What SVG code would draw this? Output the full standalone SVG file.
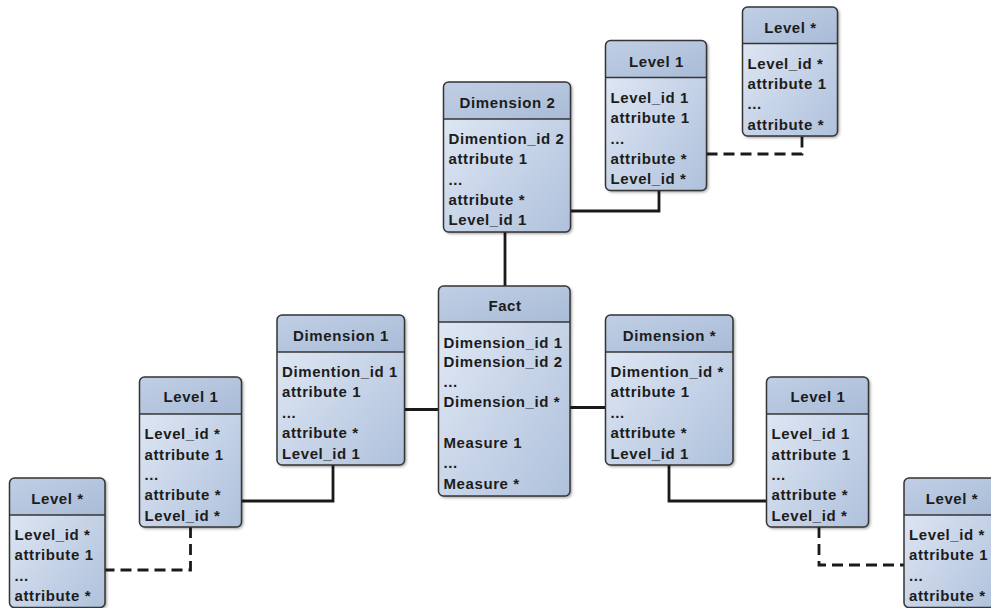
<svg xmlns="http://www.w3.org/2000/svg" width="991" height="608" viewBox="0 0 991 608">
<defs>
  <linearGradient id="gBody" x1="0" y1="0" x2="1" y2="1">
    <stop offset="0" stop-color="#e4ebf6"/>
    <stop offset="1" stop-color="#afc1dc"/>
  </linearGradient>
  <linearGradient id="gHead" x1="0" y1="0" x2="1" y2="1">
    <stop offset="0" stop-color="#c0cfe5"/>
    <stop offset="1" stop-color="#a9bbd7"/>
  </linearGradient>
  <filter id="sh" x="-10%" y="-10%" width="130%" height="130%">
    <feDropShadow dx="1.5" dy="1.5" stdDeviation="1.5" flood-color="#000" flood-opacity="0.45"/>
  </filter>
  <style>
    .body{fill:url(#gBody);filter:url(#sh)}
    .head{fill:url(#gHead)}
    .sep{stroke:#353535;stroke-width:1.5}
    .frame{fill:none;stroke:#353535;stroke-width:1.5}
    text{font-family:"Liberation Sans",Arial,sans-serif;font-weight:bold;font-size:15px;letter-spacing:0.6px;fill:#1c1c1c}
    .h{text-anchor:middle}
    .conn path{fill:none;stroke:#1a1a1a;stroke-width:2.8}
    .conn path.d{stroke-dasharray:11 6}
  </style>
</defs>
<rect width="991" height="608" fill="#ffffff"/>

<g class="conn" id="connectors">
  <path d="M505,232 V286"/>
  <path d="M570,211 H659 V190.5"/>
  <path d="M404.5,409.5 H438.5"/>
  <path d="M570,407.5 H605.5"/>
  <path d="M333,465 V501 H241.5"/>
  <path d="M669,465 V501 H766.5"/>
  <path class="d" d="M706.5,154 H802 V136"/>
  <path class="d" d="M190.5,527 V570 H105"/>
  <path class="d" d="M819,527 V565 H904"/>
</g>

<g id="dimension2" transform="translate(443.5,82)">
  <rect class="body" width="127" height="150" rx="5"/>
  <path class="head" d="M0,37 V5 A5,5 0 0 1 5,0 H122 A5,5 0 0 1 127,5 V37 Z"/>
  <line class="sep" x1="0" y1="37" x2="127" y2="37"/>
  <rect class="frame" width="127" height="150" rx="5"/>
  <text class="h" x="64" y="26">Dimension 2</text>
  <text x="5" y="62">Dimention_id 2</text>
  <text x="5" y="82">attribute 1</text>
  <text x="5" y="103">...</text>
  <text x="5" y="123">attribute *</text>
  <text x="5" y="143">Level_id 1</text>
</g>

<g id="level1-top" transform="translate(605.5,40.5)">
  <rect class="body" width="101" height="150" rx="5"/>
  <path class="head" d="M0,37 V5 A5,5 0 0 1 5,0 H96 A5,5 0 0 1 101,5 V37 Z"/>
  <line class="sep" x1="0" y1="37" x2="101" y2="37"/>
  <rect class="frame" width="101" height="150" rx="5"/>
  <text class="h" x="51" y="26">Level 1</text>
  <text x="5" y="62">Level_id 1</text>
  <text x="5" y="82">attribute 1</text>
  <text x="5" y="103">...</text>
  <text x="5" y="123">attribute *</text>
  <text x="5" y="143">Level_id *</text>
</g>

<g id="levelN-top" transform="translate(742.5,7)">
  <rect class="body" width="95" height="129" rx="5"/>
  <path class="head" d="M0,36.5 V5 A5,5 0 0 1 5,0 H90 A5,5 0 0 1 95,5 V36.5 Z"/>
  <line class="sep" x1="0" y1="36.5" x2="95" y2="36.5"/>
  <rect class="frame" width="95" height="129" rx="5"/>
  <text class="h" x="48" y="25.5">Level *</text>
  <text x="5" y="61.5">Level_id *</text>
  <text x="5" y="81.5">attribute 1</text>
  <text x="5" y="102">...</text>
  <text x="5" y="123">attribute *</text>
</g>

<g id="fact" transform="translate(438.5,286)">
  <rect class="body" width="131.5" height="210" rx="5"/>
  <path class="head" d="M0,36 V5 A5,5 0 0 1 5,0 H126.5 A5,5 0 0 1 131.5,5 V36 Z"/>
  <line class="sep" x1="0" y1="36" x2="131.5" y2="36"/>
  <rect class="frame" width="131.5" height="210" rx="5"/>
  <text class="h" x="66.5" y="25">Fact</text>
  <text x="5" y="62">Dimension_id 1</text>
  <text x="5" y="80.5">Dimension_id 2</text>
  <text x="5" y="101">...</text>
  <text x="5" y="121">Dimension_id *</text>
  <text x="5" y="162">Measure 1</text>
  <text x="5" y="182">...</text>
  <text x="5" y="203">Measure *</text>
</g>

<g id="dimension1" transform="translate(277,315)">
  <rect class="body" width="127.5" height="150" rx="5"/>
  <path class="head" d="M0,37 V5 A5,5 0 0 1 5,0 H122.5 A5,5 0 0 1 127.5,5 V37 Z"/>
  <line class="sep" x1="0" y1="37" x2="127.5" y2="37"/>
  <rect class="frame" width="127.5" height="150" rx="5"/>
  <text class="h" x="64" y="25.5">Dimension 1</text>
  <text x="5" y="62">Dimention_id 1</text>
  <text x="5" y="82">attribute 1</text>
  <text x="5" y="103">...</text>
  <text x="5" y="123">attribute *</text>
  <text x="5" y="143.5">Level_id 1</text>
</g>

<g id="dimensionN" transform="translate(605.5,315)">
  <rect class="body" width="127.5" height="150" rx="5"/>
  <path class="head" d="M0,37 V5 A5,5 0 0 1 5,0 H122.5 A5,5 0 0 1 127.5,5 V37 Z"/>
  <line class="sep" x1="0" y1="37" x2="127.5" y2="37"/>
  <rect class="frame" width="127.5" height="150" rx="5"/>
  <text class="h" x="64" y="25.5">Dimension *</text>
  <text x="5" y="62">Dimention_id *</text>
  <text x="5" y="82">attribute 1</text>
  <text x="5" y="103">...</text>
  <text x="5" y="123">attribute *</text>
  <text x="5" y="143.5">Level_id 1</text>
</g>

<g id="level1-left" transform="translate(139.5,377)">
  <rect class="body" width="102" height="150" rx="5"/>
  <path class="head" d="M0,37 V5 A5,5 0 0 1 5,0 H97 A5,5 0 0 1 102,5 V37 Z"/>
  <line class="sep" x1="0" y1="37" x2="102" y2="37"/>
  <rect class="frame" width="102" height="150" rx="5"/>
  <text class="h" x="51.5" y="25">Level 1</text>
  <text x="5" y="62">Level_id *</text>
  <text x="5" y="82.5">attribute 1</text>
  <text x="5" y="103">...</text>
  <text x="5" y="123">attribute *</text>
  <text x="5" y="143.5">Level_id *</text>
</g>

<g id="levelN-left" transform="translate(9.5,478)">
  <rect class="body" width="95.5" height="129.5" rx="5"/>
  <path class="head" d="M0,37 V5 A5,5 0 0 1 5,0 H90.5 A5,5 0 0 1 95.5,5 V37 Z"/>
  <line class="sep" x1="0" y1="37" x2="95.5" y2="37"/>
  <rect class="frame" width="95.5" height="129.5" rx="5"/>
  <text class="h" x="48" y="25.5">Level *</text>
  <text x="5" y="62">Level_id *</text>
  <text x="5" y="82">attribute 1</text>
  <text x="5" y="103">...</text>
  <text x="5" y="123">attribute *</text>
</g>

<g id="level1-right" transform="translate(766.5,377)">
  <rect class="body" width="102" height="150" rx="5"/>
  <path class="head" d="M0,37 V5 A5,5 0 0 1 5,0 H97 A5,5 0 0 1 102,5 V37 Z"/>
  <line class="sep" x1="0" y1="37" x2="102" y2="37"/>
  <rect class="frame" width="102" height="150" rx="5"/>
  <text class="h" x="51.5" y="25">Level 1</text>
  <text x="5" y="62">Level_id 1</text>
  <text x="5" y="82.5">attribute 1</text>
  <text x="5" y="103">...</text>
  <text x="5" y="123">attribute *</text>
  <text x="5" y="143.5">Level_id *</text>
</g>

<g id="levelN-right" transform="translate(904,478)">
  <rect class="body" width="95.5" height="129.5" rx="5"/>
  <path class="head" d="M0,37 V5 A5,5 0 0 1 5,0 H90.5 A5,5 0 0 1 95.5,5 V37 Z"/>
  <line class="sep" x1="0" y1="37" x2="95.5" y2="37"/>
  <rect class="frame" width="95.5" height="129.5" rx="5"/>
  <text class="h" x="48" y="25.5">Level *</text>
  <text x="5" y="62">Level_id *</text>
  <text x="5" y="82">attribute 1</text>
  <text x="5" y="103">...</text>
  <text x="5" y="123">attribute *</text>
</g>
</svg>
